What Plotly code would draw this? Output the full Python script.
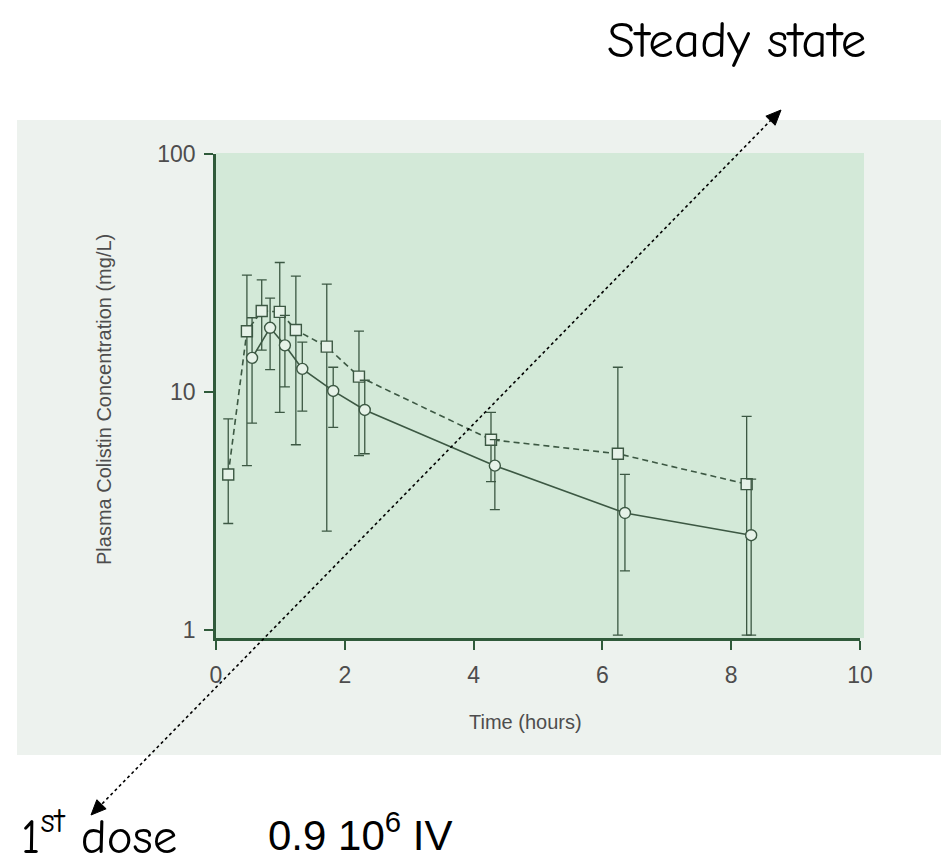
import math
import plotly.graph_objects as go

# ---- data ----
# Steady state (open squares, dashed line)
t_ss = [0.19, 0.48, 0.71, 0.99, 1.24, 1.72, 2.22, 4.27, 6.24, 8.24]
c_ss = [4.5, 18.0, 21.9, 21.7, 18.2, 15.5, 11.6, 6.3, 5.5, 4.1]
hi_ss = [7.7, 31.0, 29.6, 35.0, 30.7, 28.4, 18.0, 8.2, 12.7, 7.9]
lo_ss = [2.8, 4.9, 15.0, 8.2, 6.0, 2.6, 5.4, 4.2, 0.95, 0.95]

# 1st dose (open circles, solid line)
t_fd = [0.56, 0.84, 1.07, 1.34, 1.82, 2.31, 4.33, 6.35, 8.31]
c_fd = [13.9, 18.6, 15.7, 12.5, 10.1, 8.4, 4.9, 3.1, 2.5]
hi_fd = [20.5, 24.8, 21.0, 16.2, 12.7, 11.2, 6.3, 4.5, 4.3]
lo_fd = [7.4, 12.4, 10.5, 8.3, 7.1, 5.5, 3.2, 1.77, 0.95]

x_ticks = [0, 2, 4, 6, 8, 10]
y_ticks = [1, 10, 100]
y_tick_text = ["1", "10", "100"]

# ---- layout geometry (pixels) ----
W, H = 941, 864
L, R, T, B = 216, 860, 154, 638

def px(X):
    return (X - L) / (R - L)

def py(Y):
    return (B - Y) / (B - T)

line_col = "#3c5843"
axis_col = "#2f5a3a"
sans = "Liberation Sans, Arial, sans-serif"
tick_font = dict(family=sans, size=23, color="#4d4d4d")

fig = go.Figure()

def add_series(t, c, hi, lo, symbol, dash):
    plus = [h - v for h, v in zip(hi, c)]
    minus = [v - l for v, l in zip(c, lo)]
    fig.add_trace(go.Scatter(
        x=t, y=c, mode="lines+markers",
        line=dict(color=line_col, width=1.6, dash=dash),
        marker=dict(symbol=symbol, size=11, color="#e6f2e8",
                    line=dict(color=line_col, width=1.4)),
        error_y=dict(type="data", symmetric=False, array=plus, arrayminus=minus,
                     color=line_col, thickness=1.3, width=5),
        showlegend=False,
    ))

add_series(t_ss, c_ss, hi_ss, lo_ss, "square", "6px,4px")
add_series(t_fd, c_fd, hi_fd, lo_fd, "circle", "solid")

shapes = []
# scanned page background
shapes.append(dict(type="rect", xref="paper", yref="paper",
                   x0=px(17), x1=px(941), y0=py(755), y1=py(120),
                   fillcolor="#edf2ee", line=dict(width=0), layer="below"))
# green tinted plot panel of the scan
shapes.append(dict(type="rect", xref="paper", yref="paper",
                   x0=0, x1=px(864), y0=0, y1=py(153),
                   fillcolor="#d3e9d8", line=dict(width=0), layer="below"))

# dotted double arrow
x_a, y_a = 91, 815     # bottom tip (1st dose)
x_b, y_b = 781, 110    # top tip (steady state)
shapes.append(dict(type="line", xref="paper", yref="paper",
                   x0=px(x_a + 7), y0=py(y_a - 7), x1=px(x_b - 7), y1=py(y_b + 7),
                   line=dict(color="black", width=1.6, dash="dot"), layer="above"))

dx, dy = x_b - x_a, y_b - y_a
ln = math.hypot(dx, dy)
ux, uy = dx / ln, dy / ln
nx, ny = -uy, ux
hl, hw = 15, 6.5

def head(tx, ty, sgn):
    bx, by = tx - sgn * hl * ux, ty - sgn * hl * uy
    p2 = (bx + hw * nx, by + hw * ny)
    p3 = (bx - hw * nx, by - hw * ny)
    return "M {} {} L {} {} L {} {} Z".format(px(tx), py(ty), px(p2[0]), py(p2[1]),
                                             px(p3[0]), py(p3[1]))

for tx, ty, s in [(x_b, y_b, 1), (x_a, y_a, -1)]:
    shapes.append(dict(type="path", xref="paper", yref="paper", path=head(tx, ty, s),
                       fillcolor="black", line=dict(color="black", width=1), layer="above"))

comic = "Comic Sans MS, Comic Neue, DejaVu Sans, sans-serif"

def note(text, X, Y, font, angle=0):
    return dict(text=text, x=px(X), y=py(Y), xref="paper", yref="paper",
                xanchor="center", yanchor="middle", showarrow=False,
                textangle=angle, font=font)

annotations = [
    note("Steady state", 736, 40, dict(family=comic, size=51, color="black")),
    note("1<sup>st</sup> dose", 99, 833, dict(family=comic, size=49, color="black")),
    note("0.9 10<sup>6</sup> IV", 360, 832, dict(family=sans, size=42, color="black")),
    note("Plasma Colistin Concentration (mg/L)", 104, 400,
         dict(family=sans, size=20, color="#4d4d4d"), angle=-90),
    note("Time (hours)", 525, 722, dict(family=sans, size=20, color="#4d4d4d")),
]

fig.update_layout(
    width=W, height=H,
    margin=dict(l=L, r=W - R, t=T, b=H - B, pad=0),
    paper_bgcolor="white",
    plot_bgcolor="rgba(0,0,0,0)",
    shapes=shapes,
    annotations=annotations,
    xaxis=dict(range=[0, 10], tickvals=x_ticks, ticks="outside", ticklen=9, tickwidth=2,
               tickcolor=axis_col, showline=True, linecolor=axis_col, linewidth=2.5,
               showgrid=False, zeroline=False, tickfont=tick_font, ticklabelstandoff=6),
    yaxis=dict(type="log", range=[-0.034, 2.0], tickvals=y_ticks, ticktext=y_tick_text,
               ticks="outside", ticklen=9, tickwidth=2, tickcolor=axis_col,
               showline=True, linecolor=axis_col, linewidth=2.5, showgrid=False,
               zeroline=False, tickfont=tick_font, ticklabelstandoff=4),
)

fig.write_html("out.html")
